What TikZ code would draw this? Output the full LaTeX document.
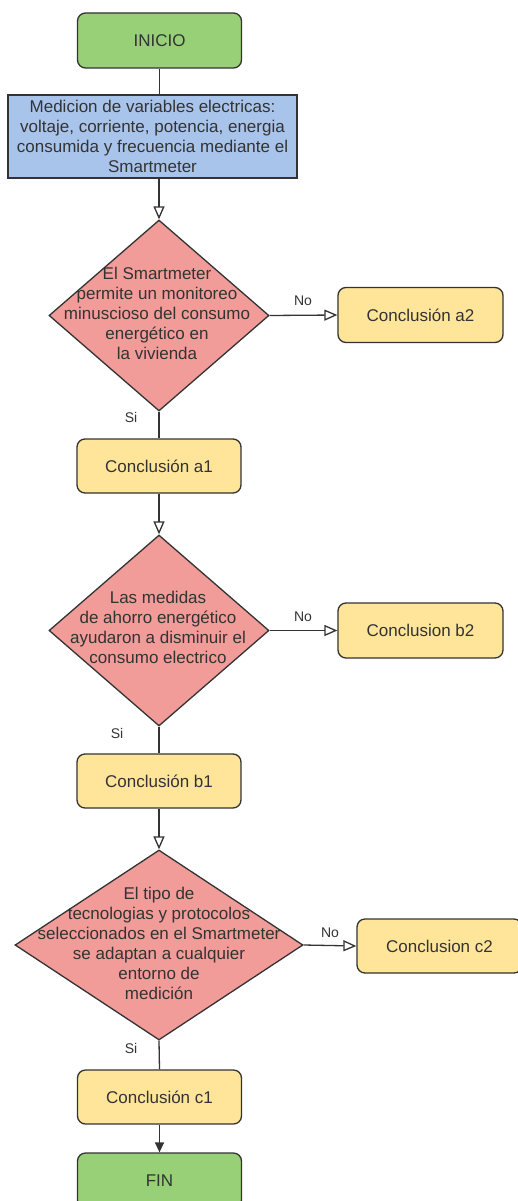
\documentclass[tikz,border=0pt]{standalone}
\usepackage{fontspec}
\setmainfont{Liberation Sans}
\usetikzlibrary{shapes.geometric,arrows.meta}

\definecolor{startgreen}{HTML}{97D077}
\definecolor{procblue}{HTML}{A9C4EB}
\definecolor{decred}{HTML}{F19C99}
\definecolor{concyellow}{HTML}{FFE599}
\definecolor{edgegray}{HTML}{333333}
\definecolor{txtgray}{HTML}{333333}

\tikzset{
  base/.style={draw=edgegray, line width=1.3pt, text=txtgray, inner sep=0pt,
    font=\fontsize{17}{20}\selectfont, align=center},
  terminal/.style={base, rounded corners=8pt, fill=startgreen,
    minimum width=164pt, minimum height=55pt},
  process/.style={base, fill=procblue, minimum width=289pt, minimum height=83pt},
  decision/.style={base, diamond, fill=decred},
  conclusion/.style={base, rounded corners=8pt, fill=concyellow,
    minimum width=165pt, minimum height=55pt},
  dtext/.style={text=txtgray, align=center, inner sep=0pt,
    font=\fontsize{17}{20}\selectfont},
  branch/.style={text=txtgray, inner sep=0pt, font=\fontsize{14}{16}\selectfont},
  flow/.style={draw=edgegray, line width=1.3pt},
  openarrow/.style={flow, -{Triangle[open, length=13pt, width=11pt, fill=white]}},
  fullarrow/.style={flow, -{Triangle[length=10pt, width=9pt]}},
}

\begin{document}
\begin{tikzpicture}[x=1pt, y=-1pt]
\useasboundingbox (0,0) rectangle (518,1201);
\clip (0,0) rectangle (518,1201);
\fill[white] (0,0) rectangle (518,1201);

% start and measurement step
\node[terminal] (ini) at (159.5,40.5) {INICIO};
\node[process] (med) at (152.5,136.5)
  {Medicion de variables electricas:\\voltaje, corriente, potencia, energia\\consumida y frecuencia mediante el\\Smartmeter};

% first decision
\node[decision, minimum width=220pt, minimum height=191pt] (d1) at (159,315.5) {};
\node[dtext] (d1t) at (157,313)
  {El Smartmeter\\permite un monitoreo\\minuscioso del consumo\\energético en\\la vivienda};
\node[conclusion] (a2) at (420.5,315) {Conclusión a2};
\node[conclusion, minimum width=164pt, minimum height=54pt] (a1) at (159,466) {Conclusión a1};

% second decision
\node[decision, minimum width=220pt, minimum height=191pt] (d2) at (159,630.5) {};
\node[dtext] (d2t) at (158,627)
  {Las medidas\\de ahorro energético\\ayudaron a disminuir el\\consumo electrico};
\node[conclusion] (b2) at (420.5,630.5) {Conclusion b2};
\node[conclusion, minimum width=164pt, minimum height=54pt] (b1) at (159,781) {Conclusión b1};

% third decision
\node[decision, minimum width=288pt, minimum height=190pt] (d3) at (159,945) {};
\node[dtext] (d3t) at (159,943.5)
  {El tipo de\\tecnologias y protocolos\\seleccionados en el Smartmeter\\se adaptan a cualquier\\entorno de\\medición};
\node[conclusion, minimum height=54pt] (c2) at (439.5,946) {Conclusion c2};
\node[conclusion, minimum width=164pt, minimum height=54pt] (c1) at (159.5,1097) {Conclusión c1};

% end
\node[terminal] (fin) at (159.5,1180.5) {FIN};

% connectors
\draw[flow] (ini.south) -- (ini.south |- med.north);
\draw[openarrow] (d1.north |- med.south) -- (d1.north);
\draw[openarrow] (d1.east) -- (a2.west);
\draw[flow] (d1.south) -- (a1.north);
\draw[openarrow] (a1.south) -- (d2.north);
\draw[openarrow] (d2.east) -- (b2.west);
\draw[flow] (d2.south) -- (b1.north);
\draw[openarrow] (b1.south) -- (d3.north);
\draw[openarrow] (d3.east) -- (c2.west);
\draw[flow] (d3.south) -- (c1.north);
\draw[fullarrow] (c1.south) -- (fin.north);

% branch labels
\node[branch] (no1) at (303,301) {No};
\node[branch] (si1) at (131,417) {Si};
\node[branch] (no2) at (303,617) {No};
\node[branch] (si2) at (117,733) {Si};
\node[branch] (no3) at (330,933) {No};
\node[branch] (si3) at (131,1048) {Si};
\end{tikzpicture}
\end{document}
